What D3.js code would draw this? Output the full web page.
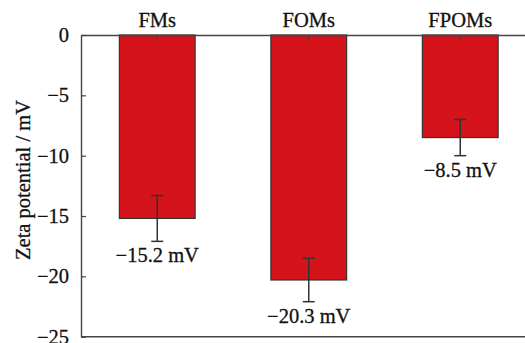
<!DOCTYPE html>
<html>
<head>
<meta charset="utf-8">
<script src="https://cdn.jsdelivr.net/npm/d3@7"></script>
<style>
  html, body { margin: 0; padding: 0; background: #fff; }
  svg { display: block; }
  text { font-family: "Liberation Serif", "Times New Roman", serif; fill: #111; stroke: #111; stroke-width: 0.3px; }
</style>
</head>
<body>
<svg id="chart" width="525" height="343"></svg>
<script>
// Zeta potential of the three microsphere samples
const categories = ["FMs", "FOMs", "FPOMs"];
const values = [-15.2, -20.3, -8.5];
const errors = [1.9, 1.8, 1.5];
const yTicks = [0, -5, -10, -15, -20, -25];
const yTitle = "Zeta potential / mV";

const width = 525, height = 343;
const margin = { top: 35, right: -10, bottom: 6, left: 81 };

const svg = d3.select("#chart");

const x = d3.scaleBand()
  .domain(categories)
  .range([margin.left + 0.5, 536])
  .paddingInner(0.5)
  .paddingOuter(0.25);

const y = d3.scaleLinear()
  .domain([0, -25])
  .range([margin.top, height - margin.bottom - 0.3]);

const fmt = d => (d < 0 ? "\u2212" + Math.abs(d) : String(d));

// Bars
svg.append("g")
  .selectAll("rect")
  .data(categories)
  .join("rect")
  .attr("x", d => x(d))
  .attr("y", y(0))
  .attr("width", x.bandwidth())
  .attr("height", (d, i) => y(values[i]) - y(0))
  .attr("fill", "#d5131a")
  .attr("stroke", "#333")
  .attr("stroke-width", 1.2);

// Error bars
const eb = svg.append("g").attr("stroke", "#333").attr("stroke-width", 1.5);
categories.forEach((c, i) => {
  const cx = x(c) + x.bandwidth() / 2;
  const y1 = y(values[i] + errors[i]);
  const y2 = y(values[i] - errors[i]);
  eb.append("line").attr("x1", cx).attr("x2", cx).attr("y1", y1).attr("y2", y2);
  eb.append("line").attr("x1", cx - 6).attr("x2", cx + 6).attr("y1", y1).attr("y2", y1);
  eb.append("line").attr("x1", cx - 6).attr("x2", cx + 6).attr("y1", y2).attr("y2", y2);
});

// Value labels under the error bars
svg.append("g")
  .selectAll("text")
  .data(categories)
  .join("text")
  .attr("x", d => x(d) + x.bandwidth() / 2)
  .attr("y", (d, i) => y(values[i] - errors[i]) + 21)
  .attr("text-anchor", "middle")
  .attr("font-size", 20.5)
  .text((d, i) => fmt(values[i]) + " mV");

// Top axis with category names
const topAxis = d3.axisTop(x).tickSizeInner(-5).tickSizeOuter(0).tickPadding(12);
const gTop = svg.append("g").attr("transform", `translate(0,${y(0)})`).call(topAxis);
gTop.select(".domain").attr("stroke", "#444").attr("stroke-width", 1.4);
gTop.selectAll(".tick line").attr("stroke", "#444").attr("stroke-width", 1.2);
gTop.selectAll(".tick text").attr("font-size", 20.5).attr("dy", "0.2em");

// Left axis
const leftAxis = d3.axisLeft(y).tickValues(yTicks).tickFormat(fmt)
  .tickSizeInner(-5).tickSizeOuter(0).tickPadding(12);
const gLeft = svg.append("g").attr("transform", `translate(${margin.left},0)`).call(leftAxis);
gLeft.select(".domain").attr("stroke", "#444").attr("stroke-width", 1.4);
gLeft.selectAll(".tick line").attr("stroke", "#444").attr("stroke-width", 1.2);
gLeft.selectAll(".tick text").attr("font-size", 20.5);

// Bottom frame line
svg.append("line")
  .attr("x1", margin.left).attr("x2", width)
  .attr("y1", y(-25)).attr("y2", y(-25))
  .attr("stroke", "#444").attr("stroke-width", 1.4);

// Y axis title
svg.append("text")
  .attr("transform", "translate(30,180) rotate(-90)")
  .attr("text-anchor", "middle")
  .attr("font-size", 20.5)
  .text(yTitle);
</script>
</body>
</html>
